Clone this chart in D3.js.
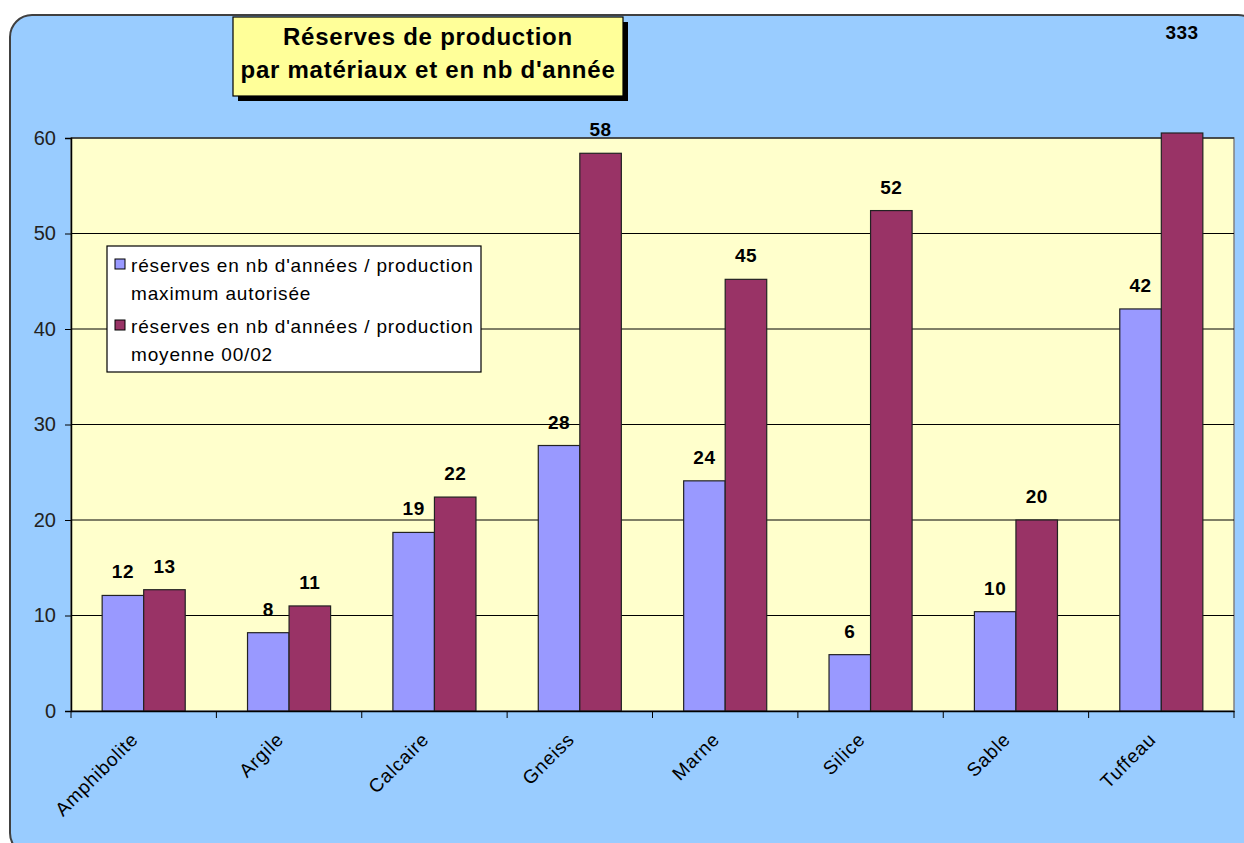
<!DOCTYPE html>
<html><head><meta charset="utf-8">
<script src="https://cdn.jsdelivr.net/npm/d3@7"></script>
<style>body{margin:0;background:#fff}svg{display:block}text{font-family:Arial,'Liberation Sans',sans-serif}</style>
</head><body>
<script>
const categories = ["Amphibolite","Argile","Calcaire","Gneiss","Marne","Silice","Sable","Tuffeau"];
const seriesLegendLines = [["réserves en nb d'années / production","maximum autorisée"],["réserves en nb d'années / production","moyenne 00/02"]];
const maxAutorisee = [12.1, 8.2, 18.7, 27.8, 24.1, 5.9, 10.4, 42.1];
const moyenne0002 = [12.7, 11.0, 22.4, 58.4, 45.2, 52.4, 20.0, 333];
const yTicks = [0,10,20,30,40,50,60];
const titleLines = ["Réserves de production","par matériaux et en nb d'année"];
const colors = ["#9999FF","#993366"];

const W=1244,H=843;
const svg=d3.select("body").append("svg").attr("width",W).attr("height",H);
// outer chart area
svg.append("rect").attr("x",10).attr("y",15).attr("width",1250).attr("height",840).attr("rx",22)
  .attr("fill","#99CCFF").attr("stroke","#404040").attr("stroke-width",2);

const yMax=60;
const y=d3.scaleLinear().domain([0,yMax]).range([711,138]);
const x0=d3.scaleBand().domain(categories).range([71,1234]).paddingInner(0).paddingOuter(0);
const x1=d3.scaleBand().domain([0,1]).range([0,x0.bandwidth()]).paddingInner(0).paddingOuter(0.75);

// plot area
svg.append("rect").attr("x",71).attr("y",y(yMax)).attr("width",1234-71).attr("height",y(0)-y(yMax))
  .attr("fill","#FFFFCC").attr("stroke","#808080").attr("stroke-width",1.5);
// gridlines
svg.append("g").selectAll("line").data(yTicks.filter(t=>t>0)).join("line")
  .attr("x1",71).attr("x2",1234).attr("y1",d=>y(d)).attr("y2",d=>y(d))
  .attr("stroke","#000").attr("stroke-width",1);

const data=[maxAutorisee,moyenne0002];
const barsG=svg.append("g");
data.forEach((vals,si)=>{
  barsG.selectAll(null).data(vals.map((v,i)=>({v,c:categories[i]}))).join("rect")
    .attr("x",d=>x0(d.c)+x1(si)).attr("width",x1.bandwidth())
    .attr("y",d=>d.v>yMax? y(yMax)-5 : y(d.v))
    .attr("height",d=>y(0)-(d.v>yMax? y(yMax)-5 : y(d.v)))
    .attr("fill",colors[si]).attr("stroke","#222").attr("stroke-width",1.2);
  barsG.selectAll(null).data(vals.map((v,i)=>({v,c:categories[i]}))).join("text")
    .attr("x",d=>x0(d.c)+x1(si)+x1.bandwidth()/2)
    .attr("y",d=>d.v>yMax? y(yMax)-99 : y(d.v)-17)
    .attr("text-anchor","middle").attr("font-size",19).attr("font-weight","bold")
    .attr("letter-spacing",0.5).attr("fill","#000")
    .text(d=>d3.format(".0f")(d.v));
});

// y axis
const yAxis=svg.append("g").attr("transform","translate(71,0)")
  .call(d3.axisLeft(y).tickValues(yTicks).tickSize(6).tickPadding(9).tickFormat(d3.format("d")));
yAxis.select(".domain").attr("stroke","#000").attr("stroke-width",1.5);
yAxis.selectAll(".tick line").attr("stroke","#000");
yAxis.selectAll("text").attr("font-size",20).attr("fill","#222").attr("font-family","Arial,'Liberation Sans',sans-serif");

// x axis
const xAxis=svg.append("g").attr("transform","translate(0,711)")
  .call(d3.axisBottom(x0).tickSize(0).tickFormat(""));
xAxis.select(".domain").attr("stroke","#000").attr("stroke-width",1.5);
svg.append("g").selectAll("line").data(categories.concat(["_end"])).join("line")
  .attr("x1",(d,i)=>71+i*x0.step()).attr("x2",(d,i)=>71+i*x0.step())
  .attr("y1",711).attr("y2",718).attr("stroke","#000");
svg.append("g").selectAll("text").data(categories).join("text")
  .attr("transform",d=>`translate(${x0(d)+x0.bandwidth()/2-9},${736}) rotate(-45)`)
  .attr("text-anchor","end").attr("font-size",19).attr("letter-spacing",0.8).attr("fill","#000")
  .attr("dy","0.35em").text(d=>d);

// title box
const tg=svg.append("g");
tg.append("rect").attr("x",238).attr("y",22).attr("width",390).attr("height",79).attr("fill","#000");
tg.append("rect").attr("x",233).attr("y",17).attr("width",390).attr("height",79).attr("fill","#FFFF99").attr("stroke","#000").attr("stroke-width",1.2);
tg.selectAll("text").data(titleLines).join("text")
  .attr("x",428).attr("y",(d,i)=>45+i*33).attr("text-anchor","middle")
  .attr("font-size",24).attr("font-weight","bold").attr("letter-spacing",0.75).attr("fill","#000").text(d=>d);

// legend
const lg=svg.append("g");
lg.append("rect").attr("x",107).attr("y",246).attr("width",374).attr("height",126).attr("fill","#fff").attr("stroke","#000").attr("stroke-width",1.2);
seriesLegendLines.forEach((lines,si)=>{
  const baseY=272+si*61;
  lg.append("rect").attr("x",115).attr("y",baseY-13).attr("width",10).attr("height",10)
    .attr("fill",colors[si]).attr("stroke","#000").attr("stroke-width",1);
  lines.forEach((ln,li)=>{
    lg.append("text").attr("x",131).attr("y",baseY+li*28).attr("font-size",19).attr("letter-spacing",0.85)
      .attr("fill","#000").text(ln);
  });
});
</script>
</body></html>
